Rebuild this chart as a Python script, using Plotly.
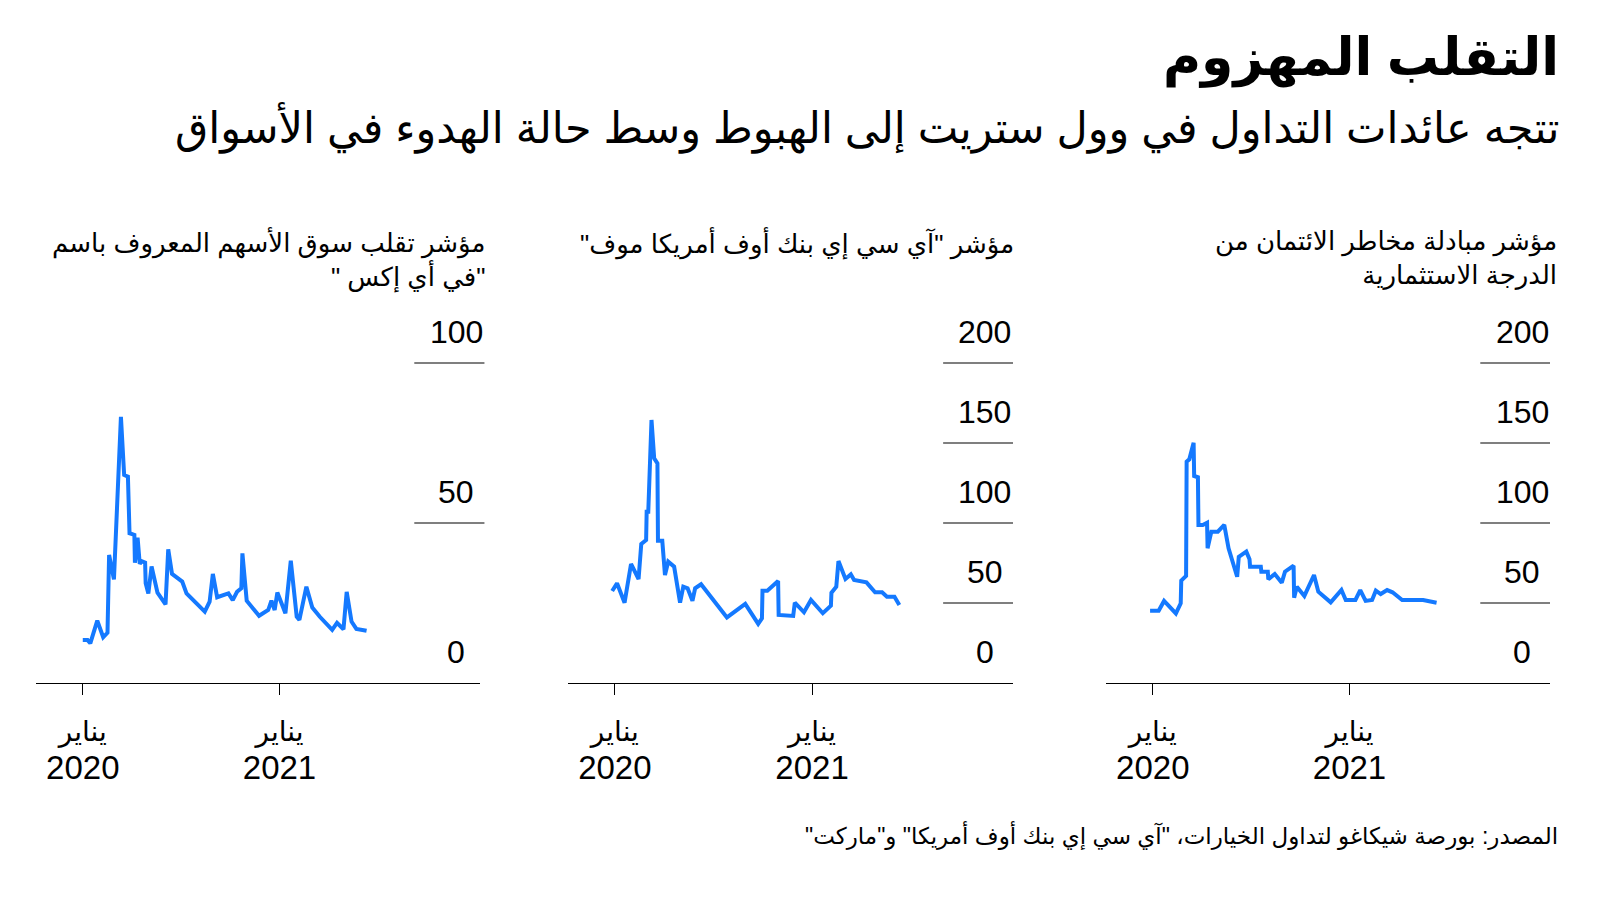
import plotly.graph_objects as go

# ---------------- data ----------------
vix_dates = ["2020-01-01","2020-01-10","2020-01-15","2020-01-28","2020-02-08","2020-02-16","2020-02-19",
             "2020-02-28","2020-03-12","2020-03-18","2020-03-25","2020-03-28","2020-04-06","2020-04-07",
             "2020-04-12","2020-04-16","2020-04-19","2020-04-26","2020-04-27","2020-05-02","2020-05-08",
             "2020-05-19","2020-06-03","2020-06-08","2020-06-15","2020-07-04","2020-07-12","2020-08-15",
             "2020-08-24","2020-08-30","2020-09-07","2020-09-28","2020-10-06","2020-10-14","2020-10-22",
             "2020-10-24","2020-11-01","2020-11-24","2020-12-11","2020-12-17","2020-12-23","2020-12-28",
             "2021-01-12","2021-01-22","2021-02-02","2021-02-07","2021-02-20","2021-03-03","2021-03-17",
             "2021-04-09","2021-04-18","2021-04-30","2021-05-06","2021-05-15","2021-05-24","2021-06-12"]
vix_values = [13.4,13.4,12.4,19.5,14.3,15.7,40.0,32.4,83.2,65.0,64.5,46.8,46.3,37.6,45.4,37.2,38.1,37.6,
              31.2,28.0,36.4,28.2,24.6,41.8,34.1,31.7,28.0,22.3,25.4,34.1,26.8,28.0,25.9,28.5,29.6,40.5,
              25.7,21.0,22.8,25.7,22.8,28.3,21.8,38.2,20.7,19.7,30.1,23.6,20.7,16.6,18.8,16.8,28.5,19.2,
              16.9,16.3]

move_dates = ["2019-12-27","2020-01-05","2020-01-19","2020-01-31","2020-02-14","2020-02-19","2020-02-28",
              "2020-02-29","2020-03-03","2020-03-09","2020-03-14","2020-03-20","2020-03-21","2020-03-29",
              "2020-04-03","2020-04-09","2020-04-20","2020-05-01","2020-05-07","2020-05-15","2020-05-24",
              "2020-05-29","2020-06-09","2020-07-27","2020-08-30","2020-09-23","2020-09-30","2020-10-01",
              "2020-10-10","2020-10-30","2020-10-31","2020-11-27","2020-11-30","2020-12-17","2020-12-30",
              "2021-01-21","2021-02-05","2021-02-06","2021-02-15","2021-02-19","2021-03-04","2021-03-14",
              "2021-03-20","2021-04-12","2021-04-28","2021-05-11","2021-05-20","2021-06-03","2021-06-12"]
move_values = [57.5,62.3,50.2,74.4,65.0,86.9,89.4,107.0,107.0,164.4,140.4,137.3,88.9,88.9,67.5,75.8,72.7,
               50.2,60.2,59.2,51.4,59.2,61.7,41.0,49.4,36.9,40.4,57.7,57.7,63.7,42.5,41.9,50.2,44.2,51.9,
               43.6,48.3,56.4,60.2,76.2,65.0,67.9,64.4,62.9,56.7,56.7,53.9,53.9,48.8]

cdx_dates = ["2019-12-27","2020-01-12","2020-01-22","2020-02-13","2020-02-22","2020-02-23","2020-03-03",
             "2020-03-04","2020-03-09","2020-03-17","2020-03-18","2020-03-25","2020-03-26","2020-04-03",
             "2020-04-11","2020-04-12","2020-04-19","2020-05-01","2020-05-13","2020-05-21","2020-06-06",
             "2020-06-09","2020-06-23","2020-06-29","2020-06-30","2020-07-20","2020-07-21","2020-08-02",
             "2020-08-03","2020-08-15","2020-08-28","2020-09-03","2020-09-19","2020-09-20","2020-09-25",
             "2020-10-09","2020-10-27","2020-11-04","2020-11-27","2020-12-17","2020-12-25","2021-01-12",
             "2021-01-21","2021-01-31","2021-02-12","2021-02-19","2021-02-28","2021-03-12","2021-03-22",
             "2021-04-09","2021-05-18","2021-06-12"]
cdx_values = [45.2,45.2,51.3,43.5,49.8,64.0,66.9,138.3,139.8,150.2,129.4,128.6,98.8,98.8,100.2,84.2,94.6,
              94.6,98.8,84.2,66.4,78.9,82.1,77.3,72.7,72.7,69.6,69.6,64.8,68.1,62.7,69.6,73.3,53.3,60.2,
              54.4,67.5,57.1,50.4,58.1,51.9,51.9,58.1,51.3,51.9,57.7,55.6,58.1,56.7,51.9,51.9,50.2]

x_tick_vals = ["2020-01-01", "2021-01-01"]
x_tick_month = ["يناير", "يناير"]
x_tick_year = ["2020", "2021"]

y_ticks_vix = [0, 50, 100]
y_ticks_other = [0, 50, 100, 150, 200]

panel_titles = [
    ["مؤشر تقلب سوق الأسهم المعروف باسم", "\"في أي إكس \""],
    ["مؤشر \"آي سي إي بنك أوف أمريكا موف\""],
    ["مؤشر مبادلة مخاطر الائتمان من", "الدرجة الاستثمارية"],
]

title = "التقلب المهزوم"
subtitle = "تتجه عائدات التداول في وول ستريت إلى الهبوط وسط حالة الهدوء في الأسواق"
source = "المصدر: بورصة شيكاغو لتداول الخيارات، \"آي سي إي بنك أوف أمريكا\" و\"ماركت\""

# ---------------- helpers ----------------
W, H = 1600, 900
OFF = 8  # page body margin offset


def px(x):
    return (x - OFF) / W


def py(y):
    return 1 - (y - OFF) / H


def rtl(s):
    return "\u202B" + s + "\u202C"


BLUE = "#1479FF"
FONT = "Liberation Sans, DejaVu Sans, sans-serif"
x_range = ["2019-10-06", "2022-01-09"]

# (dates, values, y ticks, y range, x pixel span, gridline span (domain), label x (domain), title right px)
panels = [
    (vix_dates, vix_values, y_ticks_vix, [0, 110], [36, 480], [0.852, 1.01], 0.946, 487),
    (move_dates, move_values, y_ticks_other, [0, 220], [568, 1013], [0.843, 1.0], 0.937, 1016),
    (cdx_dates, cdx_values, y_ticks_other, [0, 220], [1106, 1550], [0.843, 1.0], 0.937, 1559),
]

fig = go.Figure()
shapes = []
annotations = []
y_dom = [py(683), py(331)]
x_tick_text = [
    "<span style='font-size:28px'>" + rtl(m) + "</span><br><span style='font-size:33px'>" + y + "</span>"
    for m, y in zip(x_tick_month, x_tick_year)
]

for i, (d, v, yt, yr, xd, gl, lx, tr) in enumerate(panels, start=1):
    sx = "" if i == 1 else str(i)
    fig.add_trace(go.Scatter(x=d, y=v, mode="lines", xaxis="x" + sx, yaxis="y" + sx,
                             line=dict(color=BLUE, width=4), showlegend=False, hoverinfo="skip"))
    fig.update_layout(**{
        "xaxis" + sx: dict(domain=[px(xd[0]), px(xd[1])], range=x_range, type="date", anchor="y" + sx,
                           showline=True, linecolor="#000", linewidth=1.3,
                           ticks="outside", ticklen=11, tickcolor="#000", tickwidth=1.3,
                           tickvals=x_tick_vals, ticktext=x_tick_text, showgrid=False, zeroline=False,
                           tickfont=dict(size=29, color="#000", family=FONT), ticklabelstandoff=11),
        "yaxis" + sx: dict(domain=y_dom, range=yr, anchor="x" + sx, visible=False,
                           showgrid=False, zeroline=False),
    })
    for t in yt:
        if t != 0:
            shapes.append(dict(type="line", xref="x" + sx + " domain", yref="y" + sx,
                               x0=gl[0], x1=gl[1], y0=t, y1=t,
                               line=dict(color="#000", width=1.2), layer="below"))
        annotations.append(dict(xref="x" + sx + " domain", yref="y" + sx, x=lx, y=t,
                                text=str(t), showarrow=False, xanchor="center", yanchor="middle",
                                yshift=31, font=dict(size=32, color="#000", family=FONT)))
    annotations.append(dict(xref="paper", yref="paper", x=px(tr), y=py(224),
                            text="<br>".join(rtl(s) for s in panel_titles[i - 1]),
                            showarrow=False, xanchor="right", yanchor="top",
                            align="right", font=dict(size=26, color="#000", family=FONT)))

annotations.append(dict(xref="paper", yref="paper", x=px(1561), y=py(58), text="<b>" + rtl(title) + "</b>",
                        showarrow=False, xanchor="right", yanchor="middle",
                        font=dict(size=52, color="#000", family=FONT)))
annotations.append(dict(xref="paper", yref="paper", x=px(1561), y=py(128), text=rtl(subtitle),
                        showarrow=False, xanchor="right", yanchor="middle",
                        font=dict(size=43, color="#000", family=FONT)))
annotations.append(dict(xref="paper", yref="paper", x=px(1560), y=py(835), text=rtl(source),
                        showarrow=False, xanchor="right", yanchor="middle",
                        font=dict(size=23, color="#000", family=FONT)))

fig.update_layout(width=W, height=H, margin=dict(l=0, r=0, t=0, b=0),
                  paper_bgcolor="#fff", plot_bgcolor="#fff",
                  shapes=shapes, annotations=annotations, font=dict(family=FONT))

fig.write_html("out.html")
